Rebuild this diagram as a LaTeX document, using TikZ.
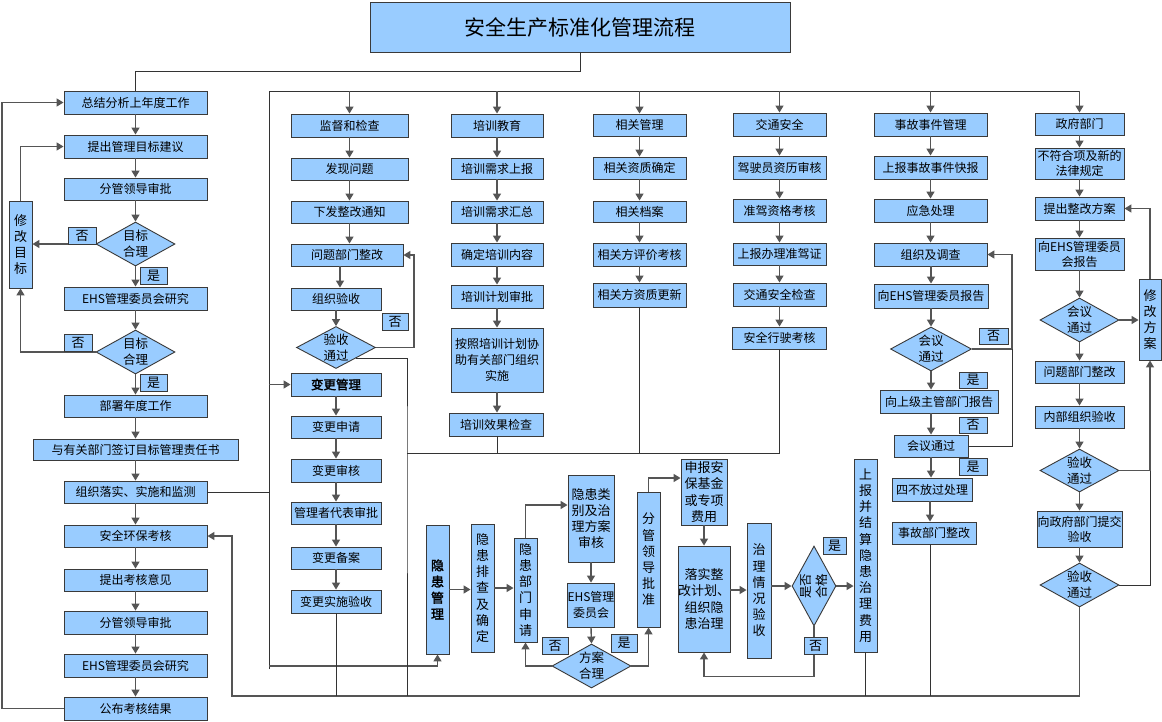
\documentclass[tikz,border=0pt]{standalone}
\usepackage{fontspec}
\setmainfont{Noto Sans CJK SC}[AutoFakeBold=2]
\usetikzlibrary{arrows.meta,shapes.geometric}
\definecolor{bf}{HTML}{99CCFF}
\definecolor{bd}{HTML}{3A3A3A}
\definecolor{ac}{HTML}{555555}
\definecolor{lc}{HTML}{333333}
\begin{document}
\begin{tikzpicture}[x=1pt,y=-1pt,
 bx/.style={draw=bd,fill=bf,line width=0.9pt,inner sep=0pt,align=center,font=\fontsize{12}{15.5}\selectfont},
 lb/.style={bx,minimum width=143pt,minimum height=23pt},
 cb/.style={bx,minimum height=22pt},
 vb/.style={bx,minimum width=23pt,font=\fontsize{13}{16.2}\selectfont},
 mb/.style={bx,font=\fontsize{13}{16.2}\selectfont},
 yn/.style={bx,minimum width=27pt,minimum height=17pt,font=\fontsize{13}{15}\selectfont},
 dm/.style={draw=bd,fill=bf,line width=0.9pt,diamond,inner sep=0pt,minimum width=79pt,minimum height=44pt},
 dt/.style={align=center,inner sep=0pt,font=\fontsize{12.5}{16}\selectfont},
 ar/.style={draw=ac,line width=1.4pt,-{Triangle[length=7pt,width=8pt]}},
 ln/.style={draw=lc,line width=1pt},
]
\fill[white] (0,0) rectangle (1162,721);
\useasboundingbox (0,0) rectangle (1162,721);

% ---------- title ----------
\node[bx,minimum width=420pt,minimum height=50pt,font=\fontsize{21}{24}\selectfont] (title) at (580,27) {安全生产标准化管理流程};

% ---------- left column ----------
\node[lb] (L1) at (135.5,102.5) {总结分析上年度工作};
\node[lb] (L2) at (135.5,146.5) {提出管理目标建议};
\node[lb,minimum height=22pt] (L3) at (135.5,189) {分管领导审批};
\node[dm] (D1) at (135.5,244) {};
\node[dt] (D1t) at (D1) {目标\\合理};
\node[vb,minimum height=87pt] (M1) at (20.5,244.5) {修\\改\\目\\标};
\node[lb] (L4) at (135.5,298.5) {EHS管理委员会研究};
\node[dm] (D2) at (135.5,352) {};
\node[dt] (D2t) at (D2) {目标\\合理};
\node[lb,minimum height=22pt] (L5) at (135.5,406) {部署年度工作};
\node[lb,minimum width=205pt,minimum height=21pt] (L6) at (135.5,449.5) {与有关部门签订目标管理责任书};
\node[lb,minimum height=22pt] (L7) at (135.5,492) {组织落实、实施和监测};
\node[lb,minimum height=22pt] (L8) at (135.5,536) {安全环保考核};
\node[lb,minimum height=22pt] (L9) at (135.5,580) {提出考核意见};
\node[lb] (L10) at (135.5,622.5) {分管领导审批};
\node[lb] (L11) at (135.5,665.5) {EHS管理委员会研究};
\node[lb] (L12) at (135.5,708.5) {公布考核结果};

% ---------- 监督和检查 ----------
\node[cb,minimum width=117pt,minimum height=23pt] (A1) at (349.5,125.5) {监督和检查};
\node[cb,minimum width=117pt] (A2) at (349.5,169) {发现问题};
\node[cb,minimum width=117pt] (A3) at (349.5,212) {下发整改通知};
\node[cb,minimum width=112pt] (A4) at (347,255) {问题部门整改};
\node[cb,minimum width=90pt] (A5) at (336,299) {组织验收};
\node[dm,minimum height=42pt] (DA) at (336,347.5) {};
\node[dt] (DAt) at (DA) {验收\\通过};

% ---------- 变更管理 ----------
\node[cb,minimum width=90pt,minimum height=23pt,font=\fontsize{12.5}{15}\selectfont\bfseries] (B1) at (336,384.5) {变更管理};
\node[cb,minimum width=90pt] (B2) at (336,427) {变更申请};
\node[cb,minimum width=90pt,minimum height=23pt] (B3) at (336,470.5) {变更审核};
\node[cb,minimum width=90pt] (B4) at (336,513) {管理者代表审批};
\node[cb,minimum width=90pt] (B5) at (336,558) {变更备案};
\node[cb,minimum width=90pt,minimum height=23pt] (B6) at (336,601.5) {变更实施验收};

% ---------- 培训教育 ----------
\node[cb,minimum width=92pt,minimum height=23pt] (C1) at (497,125.5) {培训教育};
\node[cb,minimum width=92pt,minimum height=21pt] (C2) at (497,168.5) {培训需求上报};
\node[cb,minimum width=92pt] (C3) at (497,212) {培训需求汇总};
\node[cb,minimum width=92pt,minimum height=23pt] (C4) at (497,254.5) {确定培训内容};
\node[cb,minimum width=92pt,minimum height=23pt] (C5) at (497,296.5) {培训计划审批};
\node[cb,minimum width=92pt,minimum height=64pt,font=\fontsize{12}{16}\selectfont] (C6) at (497,360) {按照培训计划协\\助有关部门组织\\实施};
\node[cb,minimum width=94pt,minimum height=23pt] (C7) at (496,424.5) {培训效果检查};

% ---------- 相关管理 ----------
\node[cb,minimum width=93pt] (E1) at (639.5,125) {相关管理};
\node[cb,minimum width=93pt] (E2) at (639.5,168) {相关资质确定};
\node[cb,minimum width=93pt,minimum height=21pt] (E3) at (639.5,211.5) {相关档案};
\node[cb,minimum width=93pt,minimum height=23pt] (E4) at (639.5,254.5) {相关方评价考核};
\node[cb,minimum width=93pt,minimum height=24pt] (E5) at (639.5,295) {相关方资质更新};

% ---------- 交通安全 ----------
\node[cb,minimum width=93pt,minimum height=23pt] (F1) at (779.5,124.5) {交通安全};
\node[cb,minimum width=93pt,minimum height=23pt] (F2) at (779.5,167.5) {驾驶员资历审核};
\node[cb,minimum width=93pt,minimum height=23pt] (F3) at (779.5,210.5) {准驾资格考核};
\node[cb,minimum width=93pt] (F4) at (779.5,254) {上报办理准驾证};
\node[cb,minimum width=93pt,minimum height=23pt] (F5) at (779.5,294.5) {交通安全检查};
\node[cb,minimum width=94pt] (F6) at (779.5,338) {安全行驶考核};

% ---------- 事故事件管理 ----------
\node[cb,minimum width=113pt,minimum height=23pt] (G1) at (930.5,124.5) {事故事件管理};
\node[cb,minimum width=113pt,minimum height=23pt] (G2) at (930.5,167.5) {上报事故事件快报};
\node[cb,minimum width=113pt,minimum height=23pt] (G3) at (930.5,210.5) {应急处理};
\node[cb,minimum width=113pt,minimum height=23pt] (G4) at (930.5,254.5) {组织及调查};
\node[cb,minimum width=114pt,minimum height=24pt] (G5) at (931,296) {向EHS管理委员报告};
\node[dm,minimum width=81pt] (DG) at (931,349) {};
\node[dt] (DGt) at (DG) {会议\\通过};
\node[cb,minimum width=118pt,minimum height=23pt] (G6) at (939,401.5) {向上级主管部门报告};
\node[cb,minimum width=74pt] (G7) at (931,446) {会议通过};
\node[cb,minimum width=80pt,minimum height=23pt] (G8) at (932,489.5) {四不放过处理};
\node[cb,minimum width=84pt] (G9) at (934,533) {事故部门整改};

% ---------- 政府部门 ----------
\node[cb,minimum width=89pt] (H1) at (1079.5,124) {政府部门};
\node[cb,minimum width=89pt,minimum height=31pt,font=\fontsize{12}{14.5}\selectfont] (H2) at (1079.5,163.5) {不符合项及新的\\法律规定};
\node[cb,minimum width=89pt,minimum height=23pt] (H3) at (1079.5,208.5) {提出整改方案};
\node[cb,minimum width=89pt,minimum height=32pt,font=\fontsize{12}{15}\selectfont] (H4) at (1079.5,254) {向EHS管理委员\\会报告};
\node[dm] (DH1) at (1079.5,320) {};
\node[dt] (DH1t) at (DH1) {会议\\通过};
\node[vb,minimum width=22pt,minimum height=81pt] (MH) at (1150,319.5) {修\\改\\方\\案};
\node[cb,minimum width=89pt] (H5) at (1079.5,372) {问题部门整改};
\node[cb,minimum width=89pt] (H6) at (1079.5,417) {内部组织验收};
\node[dm,minimum height=43pt] (DH2) at (1079.5,470.5) {};
\node[dt] (DH2t) at (DH2) {验收\\通过};
\node[cb,minimum width=85pt,minimum height=36pt,font=\fontsize{12}{15}\selectfont] (H7) at (1079.5,529) {向政府部门提交\\验收};
\node[dm] (DH3) at (1079.5,585) {};
\node[dt] (DH3t) at (DH3) {验收\\通过};

% ---------- 隐患管理 ----------
\node[vb,minimum height=129pt,font=\fontsize{13}{16.2}\selectfont\bfseries] (K1) at (437.5,589.5) {隐\\患\\管\\理};
\node[vb,minimum height=128pt] (K2) at (482.5,588) {隐\\患\\排\\查\\及\\确\\定};
\node[vb,minimum height=104pt] (K3) at (525.5,590) {隐\\患\\部\\门\\申\\请};
\node[mb,minimum width=46pt,minimum height=87pt] (K4) at (591,518.5) {隐患类\\别及治\\理方案\\审核};
\node[mb,minimum width=46pt,minimum height=44pt,font=\fontsize{12}{16}\selectfont] (K5) at (591,605) {EHS管理\\委员会};
\node[dm] (DK) at (591.5,666) {};
\node[dt] (DKt) at (DK) {方案\\合理};
\node[vb,minimum height=135pt] (K6) at (648.5,559.5) {分\\管\\领\\导\\批\\准};
\node[mb,minimum width=46pt,minimum height=66pt] (K7) at (704,492) {申报安\\保基金\\或专项\\费用};
\node[mb,minimum width=46pt,minimum height=106pt] (K8) at (704,599) {落实整\\改计划、\\组织隐\\患治理};
\node[vb,minimum width=24pt,minimum height=135pt] (K9) at (759,590.5) {治\\理\\情\\况\\验\\收};
\node[dm,minimum width=44pt,minimum height=80pt] (DK2) at (814,586) {};
\node[dt,rotate=90] (DK2t) at (DK2) {是否\\合格};
\node[vb,minimum height=193pt] (K10) at (865.5,555.5) {上\\报\\并\\结\\算\\隐\\患\\治\\理\\费\\用};

% ---------- helper coordinates ----------
\coordinate (tj) at (580,71);
\coordinate (ftl) at (269,91);
\coordinate (ftr) at (1079.5,91);
\coordinate (fbl) at (269,669);
\coordinate (kj) at (269,666);
\coordinate (bj) at (232,696);
\coordinate (olx) at (2,400);
\coordinate (aj) at (414,300);
\coordinate (vj) at (407,453);
\coordinate (gj) at (1012,300);

% ---------- connectors: left ----------
\draw[ln] (title.south) -- (tj) -| (L1.north);
\foreach \a/\b in {L1/L2,L2/L3,L3/D1,D1/L4,L4/D2,D2/L5,L5/L6,L6/L7,L7/L8,L8/L9,L9/L10,L10/L11,L11/L12}
  \draw[ar] (\a) -- (\b);
\draw[ar] (L12.west) -| (olx) |- (L1.west);
\draw[ar] (D1.west) -- (D1.west -| M1.east);
\draw[ar] (M1.north) |- (L2.west);
\draw[ar] (D2.west) -| (M1.south);
\draw[ln] (L7.east) -- (L7.east -| ftl);

% ---------- frame ----------
\draw[ln] (fbl) -- (ftl) -- (ftr);
\foreach \n in {A1,C1,E1,F1,G1,H1}
  \draw[ar] (\n.north |- ftl) -- (\n.north);
\draw[ar] (B1.west -| ftl) -- (B1.west);
\draw[ar] (kj) -| (K1.south);
\draw[ar] (DH3.south) |- (bj) |- (L8.east);

% ---------- 监督 / 变更 ----------
\foreach \a/\b in {A1/A2,A2/A3}
  \draw[ar] (\a) -- (\b);
\draw[ar] (A3.south) -- (A3.south |- A4.north);
\draw[ar] ([xshift=4pt]A5.north |- A4.south) -- ([xshift=4pt]A5.north);
\draw[ar] (A5.south) -- (DA.north);
\draw[ar] (DA.east) -| (aj) |- (A4.east);
\draw[ln] (DA.south east) -| (vj) -- (vj |- bj);
\foreach \a/\b in {B1/B2,B2/B3,B3/B4,B4/B5,B5/B6}
  \draw[ar] (\a) -- (\b);
\draw[ln] (B6.south) -- (B6.south |- bj);

% ---------- 培训 / 相关 / 交通 ----------
\foreach \a/\b in {C1/C2,C2/C3,C3/C4,C4/C5,C5/C6}
  \draw[ar] (\a) -- (\b);
\draw[ar] (C6.south) -- (C6.south |- C7.north);
\foreach \a/\b in {E1/E2,E2/E3,E3/E4,E4/E5,F1/F2,F2/F3,F3/F4,F4/F5,F5/F6}
  \draw[ar] (\a) -- (\b);
\draw[ln] (vj) -- (F6.south |- vj);
\draw[ln] (C6.south |- C7.south) -- (C6.south |- vj);
\draw[ln] (E5.south) -- (E5.south |- vj);
\draw[ln] (F6.south) -- (F6.south |- vj);

% ---------- 事故 ----------
\foreach \a/\b in {G1/G2,G2/G3,G3/G4}
  \draw[ar] (\a) -- (\b);
\draw[ar] (G5.north |- G4.south) -- (G5.north);
\draw[ar] (G5.south) -- (DG.north);
\draw[ar] (DG.south) -- (DG.south |- G6.north);
\draw[ar] (G7.north |- G6.south) -- (G7.north);
\draw[ar] (G7.south) -- (G7.south |- G8.north);
\draw[ar] ([xshift=-2pt]G8.south) -- ([xshift=-2pt]G8.south |- G9.north);
\draw[ar] (DG.east) -| (gj) |- (G4.east);
\draw[ln] (G7.east) -| (DG.east -| gj);
\draw[ln] ([xshift=-4pt]G9.south) -- ([xshift=-4pt]G9.south |- bj);

% ---------- 政府 ----------
\foreach \a/\b in {H1/H2,H2/H3,H3/H4,H4/DH1,DH1/H5,H5/H6,H6/DH2,DH2/H7,H7/DH3}
  \draw[ar] (\a) -- (\b);
\draw[ar] (DH1.east) -- (DH1.east -| MH.west);
\draw[ar] (MH.north) |- (H3.east);
\draw[ar] (DH2.east) -| (MH.south);
\draw[ln] (DH3.east) -| (MH.south |- DH2.east);

% ---------- 隐患 ----------
\draw[ar] (K1.east) -- (K1.east -| K2.west);
\draw[ar] (K2.east) -- (K2.east -| K3.west);
\draw[ar] (K3.north) |- ([yshift=13.5pt]K4.west);
\draw[ar] (K4.south) -- (K5.north);
\draw[ar] (K5.south) -- (DK.north);
\draw[ar] (DK.west) -| (K3.south);
\draw[ar] (DK.east) -| (K6.south);
\draw[ar] (K6.north) |- ([yshift=14pt]K7.west);
\draw[ar] (K7.south) -- (K8.north);
\draw[ar] ([yshift=9pt]K8.east) -- ([yshift=9pt]K8.east -| K9.west);
\draw[ar] (DK2.west -| K9.east) -- (DK2.west);
\draw[ar] (DK2.east) -- (DK2.east -| K10.west);
\draw[ar] (DK2.south) -- ++(0,50) -| (K8.south);
\draw[ln] (K10.south) -- (K10.south |- bj);

% ---------- yes / no labels ----------
\node[yn,minimum width=28pt] (N1) at (82,235.5) {否};
\node[yn] (Y1) at (153.5,275.5) {是};
\node[yn,minimum width=28pt] (N2) at (78,342.5) {否};
\node[yn] (Y2) at (153.5,383) {是};
\node[yn,minimum width=26pt] (NA) at (395,321.5) {否};
\node[yn,minimum width=29pt,minimum height=16pt] (NG) at (993.5,336) {否};
\node[yn,minimum width=28pt,minimum height=16pt] (YG) at (973,380) {是};
\node[yn,minimum width=28pt,minimum height=16pt] (NG2) at (973,425) {否};
\node[yn,minimum width=28pt] (YG2) at (973,466.5) {是};
\node[yn,minimum width=26pt] (NK) at (555,645.5) {否};
\node[yn,minimum width=26pt,minimum height=18pt] (YK) at (624,643) {是};
\node[yn,minimum width=23pt] (YK2) at (834.5,545.5) {是};
\node[yn,minimum width=23pt] (NK2) at (815.5,645.5) {否};
\end{tikzpicture}
\end{document}
